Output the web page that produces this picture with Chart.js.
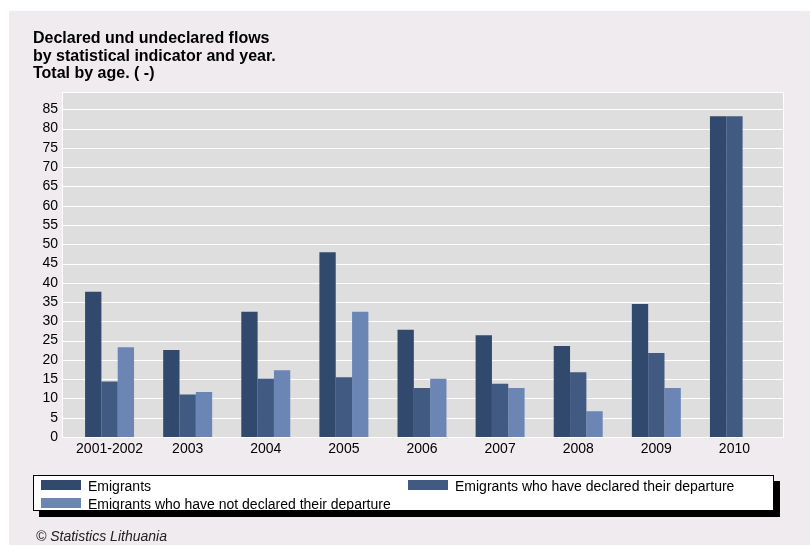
<!DOCTYPE html>
<html>
<head>
<meta charset="utf-8">
<script src="https://cdn.jsdelivr.net/npm/chart.js@4/dist/chart.umd.min.js"></script>
<style>
  html, body { margin: 0; padding: 0; background: #fff; }
  #wrap { position: relative; width: 811px; height: 545px; }
  #chart { position: absolute; left: 0; top: 0; }
  #legend {
    position: absolute; left: 33px; top: 475px; width: 739px; height: 34px;
    background: #fff; border: 1px solid #000; box-shadow: 6px 6px 0 #000;
    font-family: "Liberation Sans", Arial, sans-serif; font-size: 14px; color: #000;
  }
  #legend .item { position: absolute; white-space: nowrap; line-height: 16px; }
  #legend .sw { display: inline-block; width: 40px; height: 10px; vertical-align: 1px; margin-right: 7px; }
  #footer {
    position: absolute; left: 36px; top: 528px;
    font-family: "Liberation Sans", Arial, sans-serif; font-style: italic; font-size: 14px; color: #222;
  }
</style>
</head>
<body>
<div id="wrap">
  <canvas id="chart" width="811" height="545"></canvas>
  <div id="legend"></div>
  <div id="footer">© Statistics Lithuania</div>
</div>
<script>
const years = ['2001-2002', '2003', '2004', '2005', '2006', '2007', '2008', '2009', '2010'];
const emigrants = [37.7, 22.6, 32.5, 47.9, 27.8, 26.4, 23.6, 34.5, 83.2];
const declared = [14.4, 11.0, 15.1, 15.5, 12.7, 13.8, 16.8, 21.8, 83.2];
const notDeclared = [23.3, 11.7, 17.3, 32.5, 15.1, 12.7, 6.7, 12.7, null];
const yTicks = [0, 5, 10, 15, 20, 25, 30, 35, 40, 45, 50, 55, 60, 65, 70, 75, 80, 85];

const FONT = '"Liberation Sans", Arial, sans-serif';

// page background, plot background and horizontal grid lines
const backdrop = {
  id: 'backdrop',
  beforeDraw(chart) {
    const ctx = chart.ctx;
    const ca = chart.chartArea;
    const y = chart.scales.y;
    ctx.save();
    ctx.fillStyle = '#fff';
    ctx.fillRect(0, 0, chart.width, chart.height);
    ctx.fillStyle = '#efebef';
    ctx.fillRect(9, 11, 801, 534);
    const left = ca.left - 8.5, right = ca.right + 10.5;
    ctx.fillStyle = '#dedede';
    ctx.fillRect(left, ca.top, right - left, ca.bottom - ca.top);
    ctx.strokeStyle = '#fff';
    ctx.lineWidth = 1;
    ctx.strokeRect(left + 0.5, ca.top + 0.5, right - left - 1, ca.bottom - ca.top);
    yTicks.forEach(v => {
      const py = Math.round(y.getPixelForValue(v)) + 0.5;
      ctx.beginPath();
      ctx.moveTo(left, py);
      ctx.lineTo(right, py);
      ctx.stroke();
    });
    ctx.restore();
  }
};

const chart = new Chart(document.getElementById('chart'), {
  type: 'bar',
  data: {
    labels: years,
    datasets: [
      { label: 'Emigrants', data: emigrants, backgroundColor: '#31496c' },
      { label: 'Emigrants who have declared their departure', data: declared, backgroundColor: '#415a82' },
      { label: 'Emigrants who have not declared their departure', data: notDeclared, backgroundColor: '#6b86b5' }
    ]
  },
  options: {
    responsive: false,
    animation: false,
    layout: { padding: { left: 33, right: 37.5, top: 0, bottom: 88 } },
    datasets: { bar: { categoryPercentage: 0.627, barPercentage: 1.0, borderWidth: 0 } },
    plugins: {
      legend: { display: false },
      tooltip: { enabled: false },
      title: {
        display: true,
        align: 'start',
        text: ['Declared und undeclared flows', 'by statistical indicator and year.', 'Total by age. ( -)'],
        color: '#000',
        font: { family: FONT, size: 16, weight: 'bold', lineHeight: 1.094 },
        padding: { top: 30, bottom: 9.5 }
      }
    },
    scales: {
      x: {
        grid: { display: false },
        border: { display: false },
        afterFit(scale) { scale.height = 20; },
        ticks: { color: '#000', font: { family: FONT, size: 14 }, padding: -4, maxRotation: 0, autoSkip: false }
      },
      y: {
        min: 0,
        max: 89.5,
        grid: { display: false, drawTicks: false },
        border: { display: false },
        afterBuildTicks(scale) { scale.ticks = yTicks.map(v => ({ value: v })); },
        afterFit(scale) { scale.width = 37.5; },
        ticks: { color: '#000', font: { family: FONT, size: 14 }, padding: 12.5, autoSkip: false }
      }
    }
  },
  plugins: [backdrop]
});

// legend box in the original layout: two columns
const legendEl = document.getElementById('legend');
const spots = [[7, 2], [374, 2], [7, 20]];
chart.data.datasets.forEach((ds, i) => {
  const item = document.createElement('div');
  item.className = 'item';
  item.style.left = spots[i][0] + 'px';
  item.style.top = spots[i][1] + 'px';
  const sw = document.createElement('span');
  sw.className = 'sw';
  sw.style.background = ds.backgroundColor;
  item.appendChild(sw);
  item.appendChild(document.createTextNode(ds.label));
  legendEl.appendChild(item);
});
</script>
</body>
</html>
